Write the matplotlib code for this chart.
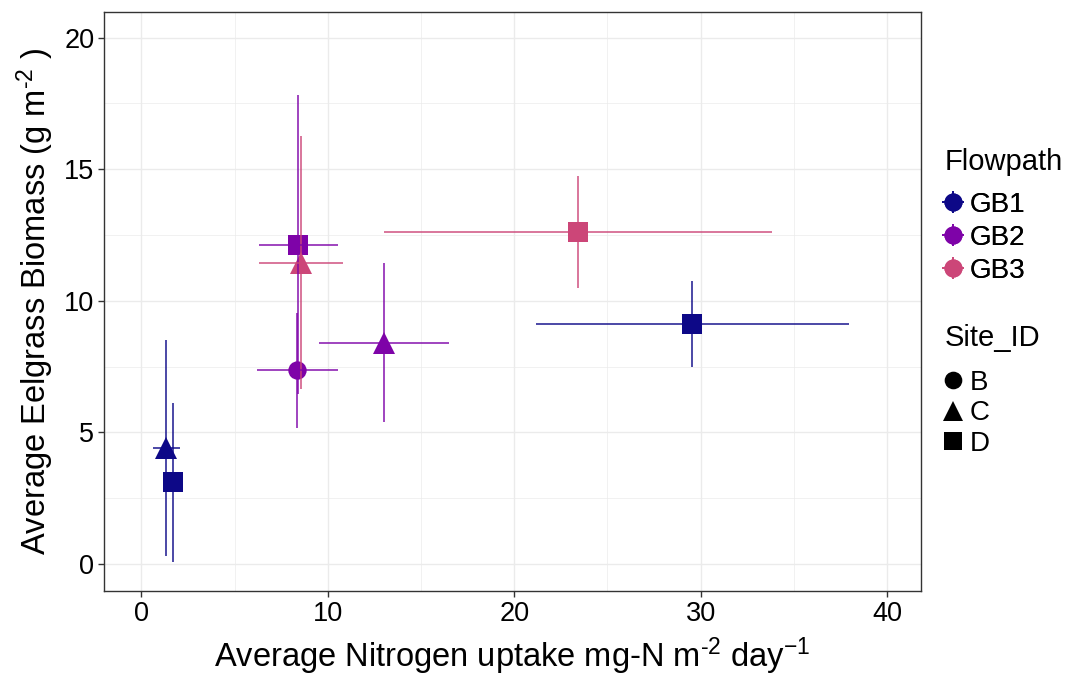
import matplotlib
matplotlib.use('Agg')
import matplotlib.pyplot as plt
from matplotlib.lines import Line2D
from matplotlib.ticker import MultipleLocator

plt.rcParams['font.family'] = ['Liberation Sans', 'DejaVu Sans']
plt.rcParams['mathtext.fontset'] = 'custom'
plt.rcParams['mathtext.rm'] = 'Liberation Sans'
plt.rcParams['mathtext.it'] = 'Liberation Sans:italic'

# data
flowpath = ['GB1', 'GB1', 'GB1', 'GB2', 'GB2', 'GB2', 'GB3', 'GB3']
site_id = ['C', 'D', 'D', 'B', 'C', 'D', 'C', 'D']
n_uptake = [1.35, 1.70, 29.56, 8.36, 13.03, 8.43, 8.58, 23.43]
n_uptake_err = [0.70, 0.55, 8.40, 2.17, 3.49, 2.13, 2.25, 10.40]
biomass = [4.41, 3.10, 9.11, 7.35, 8.41, 12.13, 11.44, 12.61]
biomass_err = [4.11, 3.01, 1.62, 2.20, 3.03, 5.67, 4.80, 2.11]

flow_levels = ['GB1', 'GB2', 'GB3']
site_levels = ['B', 'C', 'D']
flow_colors = {'GB1': '#0D0887', 'GB2': '#7E03A8', 'GB3': '#CC4678'}
site_markers = {'B': 'o', 'C': '^', 'D': 's'}
marker_size = {'B': 13.2, 'C': 15.5, 'D': 13.7}

fig = plt.figure(figsize=(10.66, 6.75), dpi=100)
ax = fig.add_axes([104 / 1066, 1 - 591 / 675, (920.7 - 104) / 1066, (591 - 12) / 675])

# points first, error bars drawn over them
for f in flow_levels:
    for i in range(len(flowpath)):
        if flowpath[i] != f:
            continue
        ax.plot(n_uptake[i], biomass[i], linestyle='none', marker=site_markers[site_id[i]],
                markersize=marker_size[site_id[i]], color=flow_colors[f], markeredgewidth=0, zorder=3)

for i in range(len(flowpath)):
    c = flow_colors[flowpath[i]]
    ax.plot([n_uptake[i], n_uptake[i]], [biomass[i] - biomass_err[i], biomass[i] + biomass_err[i]],
            color=c, lw=1.3, alpha=0.8, zorder=4, solid_capstyle='butt')
for i in range(len(flowpath)):
    c = flow_colors[flowpath[i]]
    ax.plot([n_uptake[i] - n_uptake_err[i], n_uptake[i] + n_uptake_err[i]], [biomass[i], biomass[i]],
            color=c, lw=1.3, alpha=0.8, zorder=4, solid_capstyle='butt')

ax.set_xlim(-2.0, 41.8)
ax.set_ylim(-1.03, 20.97)
ax.xaxis.set_major_locator(MultipleLocator(10))
ax.xaxis.set_minor_locator(MultipleLocator(5))
ax.yaxis.set_major_locator(MultipleLocator(5))
ax.yaxis.set_minor_locator(MultipleLocator(2.5))
ax.grid(which='major', color='#EBEBEB', lw=1.0, zorder=0)
ax.grid(which='minor', color='#EBEBEB', lw=0.5, zorder=0)
ax.set_axisbelow(True)
for s in ax.spines.values():
    s.set_color('#333333')
    s.set_linewidth(1.0)
ax.tick_params(which='major', length=4, width=1.0, color='#333333', labelsize=19.5, labelcolor='black', pad=3)
ax.tick_params(which='minor', length=0)

ax.set_xlabel('Average Nitrogen uptake mg-N m$^{\u2010 2}$ day$^{-1}$', fontsize=23.5, labelpad=6)
ax.set_ylabel('Average Eelgrass Biomass (g m$^{\u2010 2}$ )', fontsize=23.5, labelpad=6)

# legends, titles placed as plain text
fig.text(945 / 1066, 1 - 162 / 675, 'Flowpath', fontsize=21, va='center', ha='left')
fig.text(945 / 1066, 1 - 338 / 675, 'Site_ID', fontsize=21, va='center', ha='left')

flow_handles = [(Line2D([], [], ls='none', marker='o', ms=13, color=flow_colors[f], mew=0),
                 Line2D([], [], ls='none', marker='+', ms=16.5, color=flow_colors[f], mew=1.2))
                for f in flow_levels]
leg1 = fig.legend(flow_handles, flow_levels, loc='upper left',
                  bbox_to_anchor=(943 / 1066, 1 - 192 / 675), frameon=False, fontsize=20,
                  handlelength=0.7, handletextpad=0.25, labelspacing=0.25,
                  borderpad=0, borderaxespad=0)
fig.add_artist(leg1)
site_handles = [Line2D([], [], ls='none', marker=site_markers[s], ms=marker_size[s] - 0.5,
                       color='black', mew=0)
                for s in site_levels]
fig.legend(site_handles, site_levels, loc='upper left',
           bbox_to_anchor=(943 / 1066, 1 - 370 / 675), frameon=False, fontsize=20,
           handlelength=0.7, handletextpad=0.25, labelspacing=0.16,
           borderpad=0, borderaxespad=0)

fig.savefig('out.png', dpi=100)
